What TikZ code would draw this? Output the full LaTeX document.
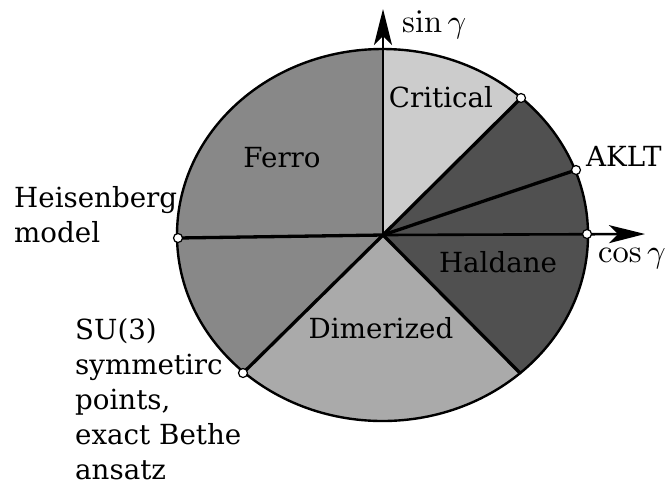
\documentclass[tikz,border=0pt]{standalone}
\usepackage[no-math]{fontspec}
\setmainfont{DejaVu Serif}
\usetikzlibrary{arrows.meta,calc}
\definecolor{ferrocol}{HTML}{888888}
\definecolor{critcol}{HTML}{CCCCCC}
\definecolor{haldcol}{HTML}{505050}
\definecolor{dimercol}{HTML}{AAAAAA}
\newcommand{\axislabel}[1]{\scalebox{3.25}{$#1$}}
\begin{document}
\begin{tikzpicture}[x=1pt,y=-1pt,
  phase/.style={font=\fontsize{27.7}{35}\selectfont, inner sep=0pt, anchor=base},
  mathlab/.style={inner sep=0pt, anchor=base west},
  boundary/.style={line width=3.3pt, black, line cap=round},
  axis/.style={line width=2.6pt, black, -{Stealth[length=36pt,width=18pt,inset=9pt]}},
  dot/.style={circle, draw=black, fill=white, line width=1.2pt, minimum size=9pt, inner sep=0pt}]
\useasboundingbox (0,0) rectangle (668,483);

% centre of the phase diagram and the phase boundary end points
\coordinate (C) at (383,235);
\coordinate (Top) at (383,49);
\coordinate (Crit) at (521,98);
\coordinate (Aklt) at (576,170);
\coordinate (Right) at (587,234);
\coordinate (Hald) at (520,373);
\coordinate (Su) at (243,373);
\coordinate (Heis) at (178,238);
\coordinate (Ytip) at (383,9);
\coordinate (Xtip) at (645,234);

% phase regions
\begin{scope}
  \clip (382.5,235) ellipse [x radius=205.5, y radius=186];
  \fill[ferrocol] (0,0) rectangle (668,483);
  \fill[critcol] (C) -- ($(C)!2!(Top)$) -- ($(C)!2!(Crit)$) -- cycle;
  \fill[haldcol] (C) -- ($(C)!2!(Crit)$) -- ($(C)!2!(Right)$) -- ($(C)!2!(Hald)$) -- cycle;
  \fill[dimercol] (C) -- ($(C)!2!(Hald)$) -- ($(C)!2!(Su)$) -- cycle;
\end{scope}
\draw[line width=2.4pt] (382.5,235) ellipse [x radius=205.5, y radius=186];

% phase boundaries
\draw[boundary] (C) -- (Crit);
\draw[boundary] (C) -- (Aklt);
\draw[boundary] (C) -- (Hald);
\draw[boundary] (C) -- (Su);
\draw[boundary] (C) -- (Heis);

% axes
\draw[axis] (C) -- (Ytip);
\draw[axis] (C) -- (Xtip);

% special points
\node[dot] (pcrit) at (Crit) {};
\node[dot] (paklt) at (Aklt) {};
\node[dot] (pright) at (Right) {};
\node[dot] (pheis) at (Heis) {};
\node[dot] (psu) at (Su) {};

% labels
\node[phase] (lcrit) at (441,107) {Critical};
\node[phase] (lferro) at (282,167) {Ferro};
\node[phase] (lhald) at (498,272) {Haldane};
\node[phase] (ldim) at (381,338) {Dimerized};
\node[phase, anchor=base west] (laklt) at (586,166) {AKLT};
\node[mathlab] (lsin) at (402,32) {\axislabel{\sin\gamma}};
\node[mathlab] (lcos) at (598,262) {\axislabel{\cos\gamma}};
\node[phase, anchor=north west, align=left] (lheis) at (14,186) {Heisenberg\\model};
\node[phase, anchor=north west, align=left] (lsu) at (75,318.5) {SU(3)\\symmetirc\\points,\\exact Bethe\\ansatz};
\end{tikzpicture}
\end{document}
